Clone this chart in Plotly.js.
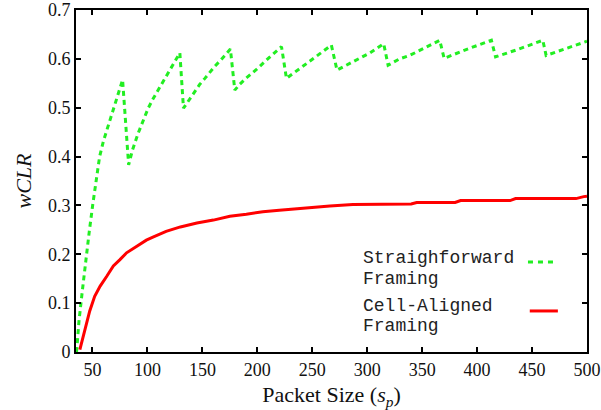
<!DOCTYPE html>
<html>
<head>
<meta charset="utf-8">
<script src="https://cdn.plot.ly/plotly-3.0.1.min.js"></script>
<style>
  html, body { margin: 0; padding: 0; background: #fff; }
  #chart { width: 601px; height: 410px; }
</style>
</head>
<body>
<div id="chart"></div>
<script>
// Straighforward Framing (green, dashed sawtooth)
const sfX = [35.5, 37.7, 40.7, 43.8, 47.1, 50.2, 53.5, 56.5, 60, 64, 69, 73.5, 77.4,
             82.9, 86.5, 91.6, 96.2, 100.7, 105.3, 110.7, 115.3, 119.8, 124, 129.5,
             132.8, 138, 143.2, 147.7, 152.3, 156.8, 161.4, 166.5, 171.4, 175.5,
             179.5, 184, 190, 199, 211, 222,
             226.5, 238.6, 253.8, 267.4,
             272.5, 287, 302.3, 315,
             319, 329.5, 338.6, 352, 366,
             370, 390, 413,
             416.8, 438, 459.8,
             462.8, 480, 500];
const sfY = [0, 0.063, 0.124, 0.189, 0.247, 0.301, 0.355, 0.400, 0.432, 0.460, 0.495, 0.530, 0.557,
             0.383, 0.414, 0.448, 0.475, 0.499, 0.519, 0.540, 0.558, 0.577, 0.593, 0.612,
             0.499, 0.516, 0.533, 0.548, 0.560, 0.573, 0.585, 0.597, 0.610, 0.620,
             0.536, 0.548, 0.561, 0.578, 0.603, 0.625,
             0.560, 0.580, 0.607, 0.628,
             0.577, 0.594, 0.612, 0.631,
             0.587, 0.600, 0.607, 0.622, 0.638,
             0.601, 0.619, 0.638,
             0.604, 0.620, 0.638,
             0.607, 0.621, 0.636];

// Cell-Aligned Framing (red, solid)
const caX = [38.5, 41.5, 44.5, 47.5, 52, 57, 63, 69, 75, 81, 90, 99, 105, 117, 130, 145, 160,
             175, 190, 205, 220, 235, 250, 266, 287, 300, 320, 340, 345, 380, 385, 430, 435,
             490, 497, 500];
const caY = [0.005, 0.033, 0.060, 0.084, 0.114, 0.135, 0.155, 0.176, 0.189, 0.203, 0.216, 0.229,
             0.235, 0.247, 0.256, 0.264, 0.270, 0.278, 0.282, 0.287, 0.290, 0.293, 0.297, 0.299,
             0.302, 0.302, 0.303, 0.303, 0.306, 0.306, 0.310, 0.310, 0.314, 0.314, 0.318, 0.319];

const legendLines = [["Straighforward", "Framing"], ["Cell-Aligned", "Framing"]];
const xTicks = [50, 100, 150, 200, 250, 300, 350, 400, 450, 500];
const yTicks = [0, 0.1, 0.2, 0.3, 0.4, 0.5, 0.6, 0.7];

const green = "#22ee22";
const red = "#ff0000";

const traces = [
  { x: sfX, y: sfY, type: "scatter", mode: "lines", name: "Straighforward Framing",
    line: { color: green, width: 3, dash: "5px,4px" }, showlegend: false },
  { x: caX, y: caY, type: "scatter", mode: "lines", name: "Cell-Aligned Framing",
    line: { color: red, width: 3 }, showlegend: false }
];

const serif = "Liberation Serif, Times New Roman, serif";
const mono = "Liberation Mono, Courier New, monospace";

const annotations = [];
const legY = [[0.275, 0.214], [0.135, 0.076]];
legendLines.forEach((lines, i) => {
  lines.forEach((t, j) => {
    annotations.push({ xref: "paper", yref: "paper", x: 0.558, y: legY[i][j],
      xanchor: "left", yanchor: "middle", text: t, showarrow: false,
      font: { family: mono, size: 18, color: "#222" } });
  });
});

const layout = {
  width: 601, height: 410,
  margin: { l: 76, r: 14, t: 10, b: 58 },
  paper_bgcolor: "#fff", plot_bgcolor: "#fff",
  showlegend: false,
  xaxis: {
    range: [35, 500], tickvals: xTicks, ticktext: xTicks.map(String),
    ticks: "inside", ticklen: 5, tickwidth: 2, tickcolor: "#000",
    showline: true, linewidth: 2, linecolor: "#000", mirror: "ticks",
    showgrid: false, zeroline: false,
    tickfont: { family: serif, size: 18, color: "#111" },
    title: { text: "Packet Size (<i>s</i><sub><i>p</i></sub>)", font: { family: serif, size: 22, color: "#111" }, standoff: 8 }
  },
  yaxis: {
    range: [0, 0.7], tickvals: yTicks, ticktext: yTicks.map(String),
    ticks: "inside", ticklen: 5, tickwidth: 2, tickcolor: "#000",
    showline: true, linewidth: 2, linecolor: "#000", mirror: "ticks",
    showgrid: false, zeroline: false,
    tickfont: { family: serif, size: 18, color: "#111" },
    title: { text: "<i>wCLR</i>", font: { family: serif, size: 22, color: "#111" }, standoff: 10 }
  },
  annotations: annotations,
  shapes: [
    { type: "line", xref: "paper", yref: "paper", x0: 0.8845, x1: 0.941, y0: 0.263, y1: 0.263,
      line: { color: green, width: 3, dash: "5px,5px" } },
    { type: "line", xref: "paper", yref: "paper", x0: 0.888, x1: 0.943, y0: 0.12, y1: 0.12,
      line: { color: red, width: 3 } }
  ]
};

Plotly.newPlot("chart", traces, layout, { displayModeBar: false, staticPlot: true });
</script>
</body>
</html>
